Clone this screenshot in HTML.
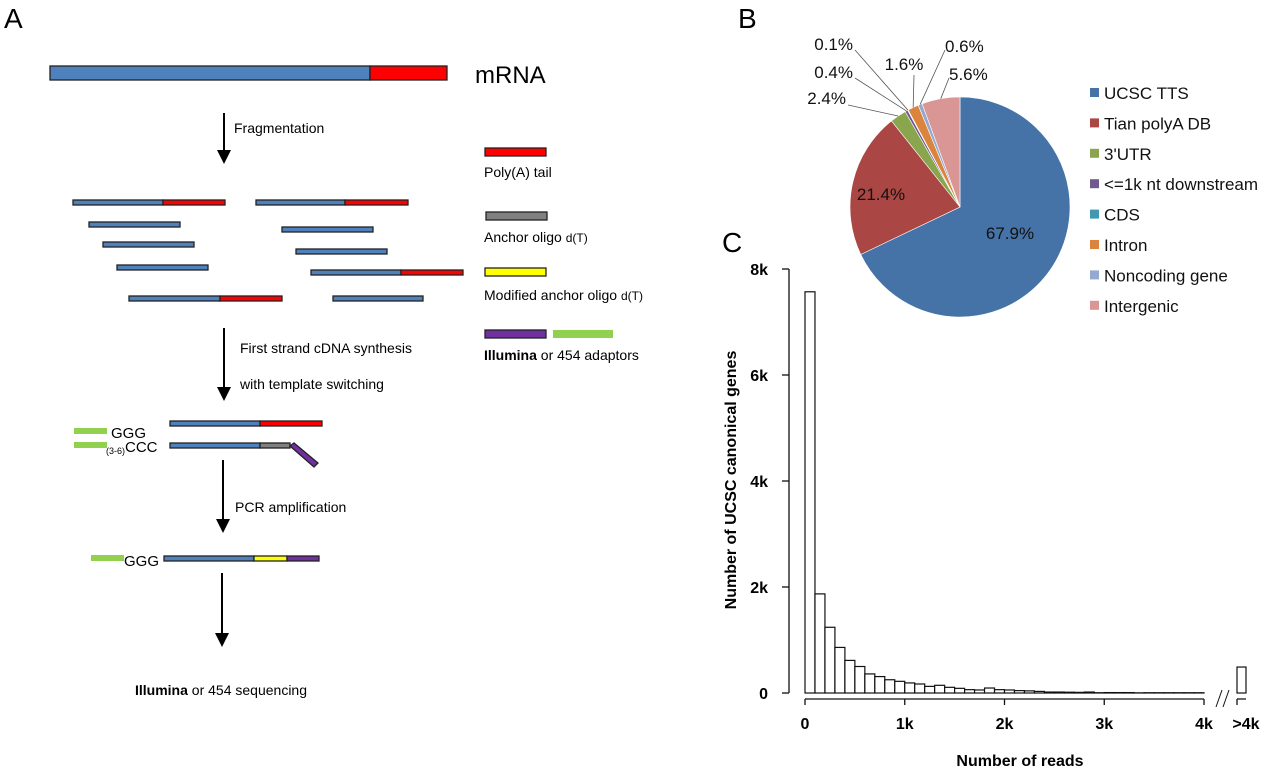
<!DOCTYPE html>
<html><head><meta charset="utf-8"><style>
body{margin:0;background:#fff;}
svg{display:block;font-family:"Liberation Sans",Arial,sans-serif;}
</style></head><body>
<svg id="fig" width="1280" height="769" viewBox="0 0 1280 769">
<!-- Panel A -->
<g stroke="#222" stroke-width="1.3">
<text x="4" y="28" font-size="28" stroke="none">A</text>
<rect x="50" y="66" width="320" height="14" fill="#4f81bd"/>
<rect x="370" y="66" width="77" height="14" fill="#f00"/>
<text x="475" y="83" font-size="24" stroke="none">mRNA</text>
<g><line x1="224" y1="113" x2="224" y2="150" stroke="#000" stroke-width="2"/><polygon points="217,150 231,150 224,164" fill="#000" stroke="none"/></g>
<text x="234" y="133" font-size="14" stroke="none">Fragmentation</text>
<g>
<rect x="73" y="200" width="90" height="5" fill="#4f81bd"/><rect x="163" y="200" width="62" height="5" fill="#f00"/>
<rect x="256" y="200" width="89" height="5" fill="#4f81bd"/><rect x="345" y="200" width="63" height="5" fill="#f00"/>
<rect x="89" y="222" width="91" height="5" fill="#4f81bd"/>
<rect x="282" y="227" width="91" height="5" fill="#4f81bd"/>
<rect x="103" y="242" width="91" height="5" fill="#4f81bd"/>
<rect x="296" y="249" width="91" height="5" fill="#4f81bd"/>
<rect x="117" y="265" width="91" height="5" fill="#4f81bd"/>
<rect x="311" y="270" width="90" height="5" fill="#4f81bd"/><rect x="401" y="270" width="62" height="5" fill="#f00"/>
<rect x="129" y="296" width="91" height="5" fill="#4f81bd"/><rect x="220" y="296" width="62" height="5" fill="#f00"/>
<rect x="333" y="296" width="90" height="5" fill="#4f81bd"/>
</g>
<g>
<rect x="485" y="148" width="61" height="8" fill="#f00"/>
<text x="484" y="177" font-size="14" stroke="none">Poly(A) tail</text>
<rect x="486" y="212" width="61" height="8" fill="#808080"/>
<text x="484" y="242" font-size="14" stroke="none">Anchor oligo <tspan font-size="12">d(T)</tspan></text>
<rect x="485" y="268" width="61" height="8" fill="#ff0"/>
<text x="484" y="300" font-size="14" stroke="none">Modified anchor oligo <tspan font-size="12">d(T)</tspan></text>
<rect x="485" y="330" width="61" height="8" fill="#7030a0"/>
<rect x="553" y="330" width="60" height="8" fill="#92d050" stroke="none"/>
<text x="484" y="360" font-size="14" stroke="none"><tspan font-weight="bold">Illumina</tspan> or 454 adaptors</text>
</g>
<g><line x1="224" y1="328" x2="224" y2="388" stroke="#000" stroke-width="2"/><polygon points="217,387 231,387 224,401" fill="#000" stroke="none"/></g>
<text x="240" y="353" font-size="14" stroke="none">First strand cDNA synthesis</text>
<text x="240" y="389" font-size="14" stroke="none">with template switching</text>
<rect x="74" y="428" width="33" height="6" fill="#92d050" stroke="none"/>
<text x="111" y="438" font-size="15" stroke="none">GGG</text>
<rect x="170" y="421" width="90" height="5" fill="#4f81bd"/><rect x="260" y="421" width="62" height="5" fill="#f00"/>
<rect x="74" y="442" width="33" height="6" fill="#92d050" stroke="none"/>
<text x="106" y="452" font-size="15" stroke="none"><tspan font-size="9" dy="2">(3-6)</tspan><tspan dy="-2">CCC</tspan></text>
<rect x="170" y="443" width="90" height="5" fill="#4f81bd"/><rect x="260" y="443" width="30" height="5" fill="#808080"/>
<polygon points="290,446 294,443 318,463 314,467" fill="#7030a0"/>
<g><line x1="223" y1="460" x2="223" y2="520" stroke="#000" stroke-width="2"/><polygon points="216,519 230,519 223,533" fill="#000" stroke="none"/></g>
<text x="235" y="512" font-size="14" stroke="none">PCR amplification</text>
<rect x="91" y="555" width="33" height="6" fill="#92d050" stroke="none"/>
<text x="124" y="566" font-size="15" stroke="none">GGG</text>
<rect x="164" y="556" width="90" height="5" fill="#4f81bd"/><rect x="254" y="556" width="33" height="5" fill="#ff0"/><rect x="287" y="556" width="32" height="5" fill="#7030a0"/>
<g><line x1="222" y1="573" x2="222" y2="634" stroke="#000" stroke-width="2"/><polygon points="215,633 229,633 222,647" fill="#000" stroke="none"/></g>
<text x="135" y="695" font-size="14" stroke="none"><tspan font-weight="bold">Illumina</tspan> or 454 sequencing</text>
</g>
<text x="738" y="28" font-size="28">B</text>
<text x="722" y="252" font-size="28">C</text>
<g id="hist"></g>
<g id="pie"></g>
</svg>
<script>
const pieCategories=["UCSC TTS","Tian polyA DB","3'UTR","<=1k nt downstream","CDS","Intron","Noncoding gene","Intergenic"];
const pieValues=[67.9,21.4,2.4,0.4,0.1,1.6,0.6,5.6];
const pieColors=["#4572a7","#aa4643","#89a54e","#71588f","#4198af","#db843d","#93a9cf","#d99694"];
const histBins=[0,100,200,300,400,500,600,700,800,900,1000,1100,1200,1300,1400,1500,1600,1700,1800,1900,2000,2100,2200,2300,2400,2500,2600,2700,2800,2900,3000,3100,3200,3300,3400,3500,3600,3700,3800,3900];
const histCounts=[7570,1870,1240,860,615,500,360,310,250,220,190,170,125,145,107,88,63,57,94,63,57,45,40,30,18,18,15,12,18,5,8,8,8,3,5,5,5,5,5,5];
const overflowCount=490;
const yTicks=[0,2000,4000,6000,8000];
const yTickLabels=["0","2k","4k","6k","8k"];
const xTicks=[0,1000,2000,3000,4000];
const xTickLabels=["0","1k","2k","3k","4k"];
const NS="http://www.w3.org/2000/svg";
function mk(tag,attrs,parent){const e=document.createElementNS(NS,tag);for(const k in attrs)e.setAttribute(k,attrs[k]);parent.appendChild(e);return e;}
const H=document.getElementById('hist');
const xS=v=>805+v*0.09975, yS=v=>693-v*0.053;
for(let i=0;i<histCounts.length;i++){
 const r=mk('rect',{x:xS(histBins[i]),y:yS(histCounts[i]),width:xS(histBins[i]+100)-xS(histBins[i]),height:yS(0)-yS(histCounts[i]),fill:'#fff',stroke:'#111','stroke-width':1.2},H);
 
 
}
const ob=mk('rect',{x:1237,y:yS(overflowCount),width:9,height:yS(0)-yS(overflowCount),fill:'#fff',stroke:'#111','stroke-width':1.2},H);


const ya=mk('line',{x1:789,y1:yS(0),x2:789,y2:yS(8000),stroke:'#111','stroke-width':1.3},H);


yTicks.forEach((t,i)=>{mk('line',{x1:782,x2:789,y1:yS(t),y2:yS(t),stroke:'#111','stroke-width':1.3},H);
 const tx=mk('text',{x:768,y:yS(t)+6,'font-size':16,'font-weight':'bold','text-anchor':'end'},H);tx.textContent=yTickLabels[i];
 
 });
const xa=mk('path',{d:'M805,699 H1204 M1237,699 H1246 M1237,699 v6',stroke:'#111','stroke-width':1.3,fill:'none'},H);


mk('path',{d:'M1216,707 L1222,690 M1223,707 L1229,690',stroke:'#111','stroke-width':1},H);
xTicks.forEach((t,i)=>{mk('line',{x1:xS(t),x2:xS(t),y1:699,y2:705,stroke:'#111','stroke-width':1.3},H);
 const tx=mk('text',{x:xS(t),y:729,'font-size':16,'font-weight':'bold','text-anchor':'middle'},H);tx.textContent=xTickLabels[i];
 
 });
const ox=mk('text',{x:1246,y:729,'font-size':16,'font-weight':'bold','text-anchor':'middle'},H);ox.textContent='>4k';


const xt=mk('text',{x:1020,y:766,'font-size':16,'font-weight':'bold','text-anchor':'middle'},H);xt.textContent='Number of reads';


const yt=mk('text',{x:0,y:0,'font-size':16,'font-weight':'bold','text-anchor':'middle',transform:'translate(736,480) rotate(-90)'},H);yt.textContent='Number of UCSC canonical genes';


// pie
const P=document.getElementById('pie');
const cx=960,cy=207,R=110;
const tot=pieValues.reduce((a,b)=>a+b,0);
let ang=0;const mids=[];
pieValues.forEach((v,i)=>{
 const a0=ang,a1=ang+v/tot*2*Math.PI;ang=a1;mids.push((a0+a1)/2);
 const p=a=>[cx+R*Math.sin(a),cy-R*Math.cos(a)];
 const [x0,y0]=p(a0),[x1,y1]=p(a1);
 const s=mk('path',{d:`M${cx},${cy} L${x0},${y0} A${R},${R} 0 ${a1-a0>Math.PI?1:0} 1 ${x1},${y1} Z`,fill:pieColors[i],stroke:'#fff','stroke-width':0.6},P);
 
 
});
const pt=a=>[cx+R*Math.sin(a),cy-R*Math.cos(a)];
const fmt=v=>v.toFixed(1)+'%';
[[0,1010,239],[1,881,200]].forEach(([i,x,y])=>{const t=mk('text',{x:x,y:y,'font-size':17,'text-anchor':'middle',fill:'#111'},P);t.textContent=fmt(pieValues[i]);
 
 });
[[2,846,104,868,105],[3,853,78,853,78],[4,853,50,853,50],[5,902,68,914,75],[6,945,52,942,50],[7,949,80,943,78]].forEach(([i,tx,ty,ex,ey])=>{
 const [sx,sy]=pt(mids[i]);
 mk('polyline',{points:`${tx+(i>=5?(i==5?12:0):2)},${ey} ${sx},${sy}`,fill:'none',stroke:'#555','stroke-width':0.8},P);
 const t=mk('text',{x:tx,y:ty,'font-size':17,'text-anchor':i<=4?'end':(i==5?'middle':'start'),fill:'#111'},P);
 if(i==5){t.setAttribute('x',904);t.setAttribute('y',70);}
 t.textContent=fmt(pieValues[i]);
 
 
});
pieCategories.forEach((c,i)=>{const y=93+i*30.4;
 const r=mk('rect',{x:1090,y:y-5,width:9,height:9,fill:pieColors[i]},P);
 
 
 const t=mk('text',{x:1104,y:y+6,'font-size':17,fill:'#111'},P);t.textContent=c;
 
 });
</script>
</body></html>
